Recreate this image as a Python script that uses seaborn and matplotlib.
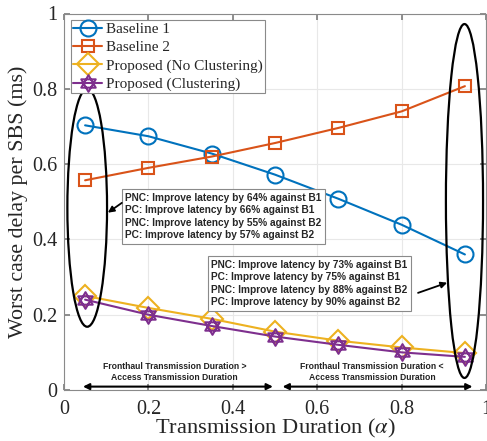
import numpy as np
import pandas as pd
import matplotlib
matplotlib.use("Agg")
import matplotlib.pyplot as plt
from matplotlib.path import Path
from matplotlib.patches import Ellipse
import seaborn as sns

# Transmission duration (alpha) and worst-case delay per SBS (ms)
alpha = [0.05, 0.2, 0.35, 0.5, 0.65, 0.8, 0.95]
baseline1 = [0.703, 0.674, 0.628, 0.572, 0.508, 0.439, 0.360]
baseline2 = [0.557, 0.590, 0.620, 0.656, 0.696, 0.740, 0.807]
proposed_nc = [0.250, 0.218, 0.189, 0.155, 0.131, 0.113, 0.098]
proposed_c = [0.240, 0.200, 0.170, 0.142, 0.120, 0.100, 0.088]
series_names = ["Baseline 1", "Baseline 2",
                "Proposed (No Clustering)", "Proposed (Clustering)"]

box_low = ("PNC: Improve latency by 64% against B1\n"
           "PC: Improve latency by 66% against B1\n"
           "PNC: Improve latency by 55% against B2\n"
           "PC: Improve latency by 57% against B2")
box_high = ("PNC: Improve latency by 73% against B1\n"
            "PC: Improve latency by 75% against B1\n"
            "PNC: Improve latency by 88% against B2\n"
            "PC: Improve latency by 90% against B2")
region_left = "Fronthaul Transmission Duration >\nAccess Transmission Duration"
region_right = "Fronthaul Transmission Duration <\nAccess Transmission Duration"

df = pd.DataFrame({
    "alpha": alpha * 4,
    "delay": baseline1 + baseline2 + proposed_nc + proposed_c,
    "series": sum([[n] * len(alpha) for n in series_names], []),
})

sns.set_theme(style="whitegrid")
plt.rcParams["font.family"] = ["Liberation Serif", "DejaVu Serif"]
plt.rcParams["mathtext.fontset"] = "stix"

# Star-of-David style hexagram made of two overlapping triangles
ang1 = np.deg2rad([90, 210, 330])
ang2 = np.deg2rad([270, 30, 150])
verts = ([(np.cos(a), np.sin(a)) for a in ang1] + [(0, 0)] +
         [(np.cos(a), np.sin(a)) for a in ang2] + [(0, 0)])
codes = [Path.MOVETO, Path.LINETO, Path.LINETO, Path.CLOSEPOLY] * 2
hexagram = Path(verts, codes)

colors = ["#0072BD", "#D95319", "#EDB120", "#7E2F8E"]
markers = ["o", "s", "D", hexagram]
msizes = [11.5, 8.5, 11, 12]

fig = plt.figure(figsize=(4.87, 4.41), dpi=100)
ax = fig.add_axes([64 / 487, 51 / 441, 422 / 487, 376.5 / 441])

for name, c, m, ms in zip(series_names, colors, markers, msizes):
    sns.lineplot(data=df[df["series"] == name], x="alpha", y="delay", ax=ax,
                 color=c, marker=m, markersize=ms, markerfacecolor="none",
                 markeredgecolor=c, markeredgewidth=1.5, linewidth=1.5,
                 label=name)

ax.set_xlim(0, 1)
ax.set_ylim(0, 1)
ticks = [0, 0.2, 0.4, 0.6, 0.8, 1]
ax.set_xticks(ticks)
ax.set_yticks(ticks)
ax.set_xticklabels(["0", "0.2", "0.4", "0.6", "0.8", "1"])
ax.set_yticklabels(["0", "0.2", "0.4", "0.6", "0.8", "1"])
ax.tick_params(labelsize=14.5, direction="in", length=4, color="#808080",
               top=True, right=True, bottom=True, left=True, pad=5)
ax.tick_params(axis="x", pad=7)
ax.grid(True, color="#e8e8e8", linewidth=0.8)
for s in ax.spines.values():
    s.set_color("#8a8a8a")
    s.set_linewidth(0.8)
ax.set_facecolor("white")

ax.set_xlabel(r"Transmission Duration ($\alpha$)", fontsize=16.2, labelpad=-1)
ax.set_ylabel("Worst case delay per SBS (ms)", fontsize=15.8, labelpad=3)

leg = ax.legend(loc="upper left", bbox_to_anchor=(0.017, 0.983), fontsize=11,
                frameon=True, fancybox=False, framealpha=1,
                edgecolor="#8a8a8a", borderpad=0.15, labelspacing=0.3,
                handlelength=1.9, handletextpad=0.2, borderaxespad=0)
leg.get_frame().set_linewidth(0.8)

# Ellipses highlighting the two ends of the range
ax.add_patch(Ellipse((0.055, 0.484), 0.094, 0.632, fill=False,
                     edgecolor="black", linewidth=1.6, zorder=5))
ax.add_patch(Ellipse((0.949, 0.502), 0.088, 0.94, fill=False,
                     edgecolor="black", linewidth=1.6, zorder=5))

sans_bold = dict(family=["Liberation Sans", "DejaVu Sans"], fontweight="bold")
bbox_style = dict(boxstyle="square,pad=0.35", facecolor="white",
                  edgecolor="#8a8a8a", linewidth=0.8)

ax.text(0.145, 0.461, box_low, fontsize=7.3, linespacing=1.3,
        va="center", ha="left", bbox=bbox_style, zorder=6, **sans_bold)
ax.text(0.349, 0.283, box_high, fontsize=7.3, linespacing=1.3,
        va="center", ha="left", bbox=bbox_style, zorder=6, **sans_bold)

ax.annotate("", xy=(0.104, 0.471), xytext=(0.137, 0.497),
            arrowprops=dict(arrowstyle="-|>", color="black", lw=1.3,
                            mutation_scale=9, shrinkA=0, shrinkB=0), zorder=6)
ax.annotate("", xy=(0.908, 0.285), xytext=(0.839, 0.258),
            arrowprops=dict(arrowstyle="-|>", color="black", lw=1.3,
                            mutation_scale=9, shrinkA=0, shrinkB=0), zorder=6)

# Double-headed arrows marking the two operating regions
ax.annotate("", xy=(0.045, 0.009), xytext=(0.495, 0.009),
            arrowprops=dict(arrowstyle="<|-|>", color="black", lw=1.5,
                            mutation_scale=9, shrinkA=0, shrinkB=0))
ax.annotate("", xy=(0.518, 0.009), xytext=(0.968, 0.009),
            arrowprops=dict(arrowstyle="<|-|>", color="black", lw=1.5,
                            mutation_scale=9, shrinkA=0, shrinkB=0))
ax.text(0.262, 0.047, region_left, fontsize=6.2, ha="center", va="center",
        linespacing=1.3, color="#222222", **sans_bold)
ax.text(0.73, 0.047, region_right, fontsize=6.2, ha="center", va="center",
        linespacing=1.3, color="#222222", **sans_bold)

fig.savefig("out.png", dpi=100)
